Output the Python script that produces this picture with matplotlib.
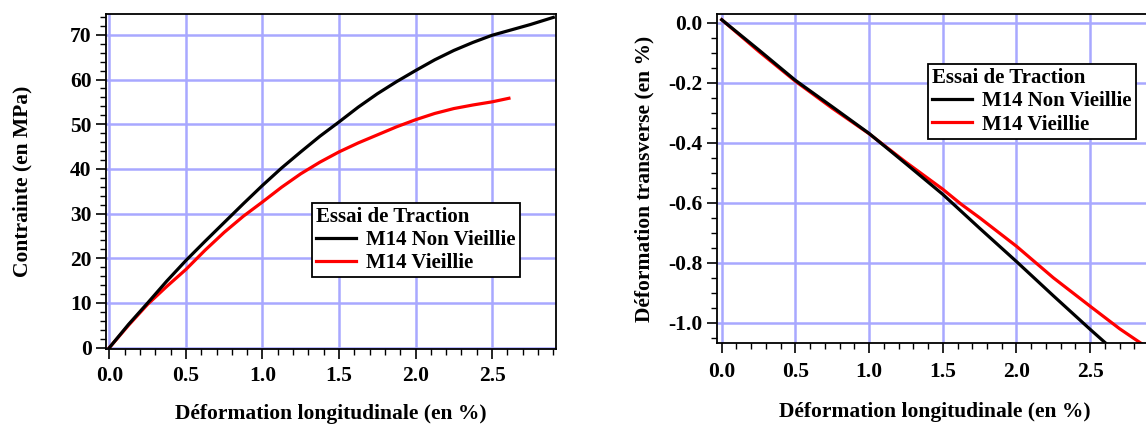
import numpy as np
import matplotlib
matplotlib.use("Agg")
import matplotlib.pyplot as plt
from matplotlib.ticker import MultipleLocator, FormatStrFormatter

plt.rcParams['font.family'] = ['Liberation Serif', 'DejaVu Serif']
plt.rcParams['font.weight'] = 'bold'

# Essai de traction - contrainte vs deformation longitudinale
strain_nv = [0.0, 0.125, 0.25, 0.375, 0.5, 0.625, 0.75, 0.875, 1.0, 1.125, 1.25, 1.375, 1.5,
             1.625, 1.75, 1.875, 2.0, 2.125, 2.25, 2.375, 2.5, 2.625, 2.75, 2.9]
stress_nv = [0.0, 5.2, 10.0, 14.9, 19.5, 23.8, 28.0, 32.2, 36.3, 40.2, 43.8, 47.3, 50.5,
             53.8, 56.8, 59.5, 62.0, 64.4, 66.5, 68.3, 69.9, 71.1, 72.3, 73.9]
strain_v = [0.0, 0.125, 0.25, 0.375, 0.5, 0.625, 0.75, 0.875, 1.0, 1.125, 1.25, 1.375, 1.5,
            1.625, 1.75, 1.875, 2.0, 2.125, 2.25, 2.375, 2.5, 2.61]
stress_v = [0.0, 5.0, 9.7, 13.7, 17.5, 21.8, 25.8, 29.4, 32.6, 35.9, 38.9, 41.5, 43.8,
            45.8, 47.6, 49.4, 51.0, 52.4, 53.5, 54.3, 55.0, 55.8]

# Deformation transverse vs deformation longitudinale
long_nv = [0.0, 0.25, 0.5, 0.75, 1.0, 1.25, 1.5, 1.75, 2.0, 2.25, 2.5, 2.61]
trans_nv = [0.01, -0.09, -0.192, -0.28, -0.369, -0.47, -0.572, -0.685, -0.796, -0.91, -1.022, -1.07]
long_v = [0.0, 0.25, 0.5, 0.75, 1.0, 1.25, 1.5, 1.625, 1.75, 2.0, 2.25, 2.5, 2.7, 2.85]
trans_v = [0.01, -0.095, -0.195, -0.285, -0.37, -0.465, -0.555, -0.605, -0.65, -0.745, -0.85,
           -0.945, -1.02, -1.07]

labels = ["M14 Non Vieillie", "M14 Vieillie"]
colors = ["black", "#ff0000"]
grid_color = "#a8a8ff"
fs = 15.5


def style_axes(ax, xmajor, xminor, ymajor, yminor, yfmt, xpad):
    ax.xaxis.set_major_locator(MultipleLocator(xmajor))
    ax.xaxis.set_minor_locator(MultipleLocator(xminor))
    ax.yaxis.set_major_locator(MultipleLocator(ymajor))
    ax.yaxis.set_minor_locator(MultipleLocator(yminor))
    ax.xaxis.set_major_formatter(FormatStrFormatter('%.1f'))
    ax.yaxis.set_major_formatter(FormatStrFormatter(yfmt))
    ax.tick_params(which='major', direction='out', length=7, width=1.2,
                   labelsize=fs, pad=3, top=False, right=False)
    ax.tick_params(axis='x', which='major', pad=xpad)
    ax.tick_params(which='minor', direction='out', length=4, width=1.0,
                   top=False, right=False)
    ax.grid(True, which='major', color=grid_color, linewidth=1.8)
    ax.set_axisbelow(True)
    for sp in ax.spines.values():
        sp.set_linewidth(1.3)
    for lab in ax.get_xticklabels() + ax.get_yticklabels():
        lab.set_fontweight('bold')


def add_legend(ax, loc):
    leg = ax.legend(title="Essai de Traction", loc='upper left', bbox_to_anchor=loc,
                    fontsize=15, title_fontsize=15, frameon=True, fancybox=False,
                    handlelength=1.9, handletextpad=0.5, borderpad=0.2,
                    labelspacing=0.15, borderaxespad=0.0)
    leg._legend_box.align = "left"
    leg.get_title().set_fontweight('bold')
    frame = leg.get_frame()
    frame.set_edgecolor('black')
    frame.set_linewidth(1.3)
    frame.set_alpha(1.0)
    return leg


fig = plt.figure(figsize=(11.46, 4.24), dpi=100)

# left panel
ax1 = fig.add_axes([0.0921, 0.1769, 0.3934, 0.790])
ax1.plot(strain_nv, stress_nv, color=colors[0], lw=2.3, label=labels[0], zorder=3)
ax1.plot(strain_v, stress_v, color=colors[1], lw=2.3, label=labels[1], zorder=2)
ax1.set_xlim(-0.025, 2.92)
ax1.set_ylim(-0.3, 74.65)
style_axes(ax1, 0.5, 0.1, 10, 2, '%d', 5)
ax1.set_xlabel("Déformation longitudinale (en %)", fontsize=fs, fontweight='bold', labelpad=13)
ax1.set_ylabel("Contrainte (en MPa)", fontsize=fs, fontweight='bold', labelpad=27)
add_legend(ax1, (0.4575, 0.437))

# right panel
ax2 = fig.add_axes([0.6254, 0.1899, 0.3812, 0.777])
ax2.plot(long_nv, trans_nv, color=colors[0], lw=2.3, label=labels[0], zorder=3)
ax2.plot(long_v, trans_v, color=colors[1], lw=2.3, label=labels[1], zorder=2)
ax2.set_xlim(-0.034, 2.93)
ax2.set_ylim(-1.069, 0.029)
style_axes(ax2, 0.5, 0.1, 0.2, 0.05, '%.1f', 6)
ax2.set_xlabel("Déformation longitudinale (en %)", fontsize=fs, fontweight='bold', labelpad=15)
ax2.set_ylabel("Déformation transverse (en %)", fontsize=fs, fontweight='bold', labelpad=10)
add_legend(ax2, (0.484, 0.848))

fig.savefig("out.png", dpi=100)
